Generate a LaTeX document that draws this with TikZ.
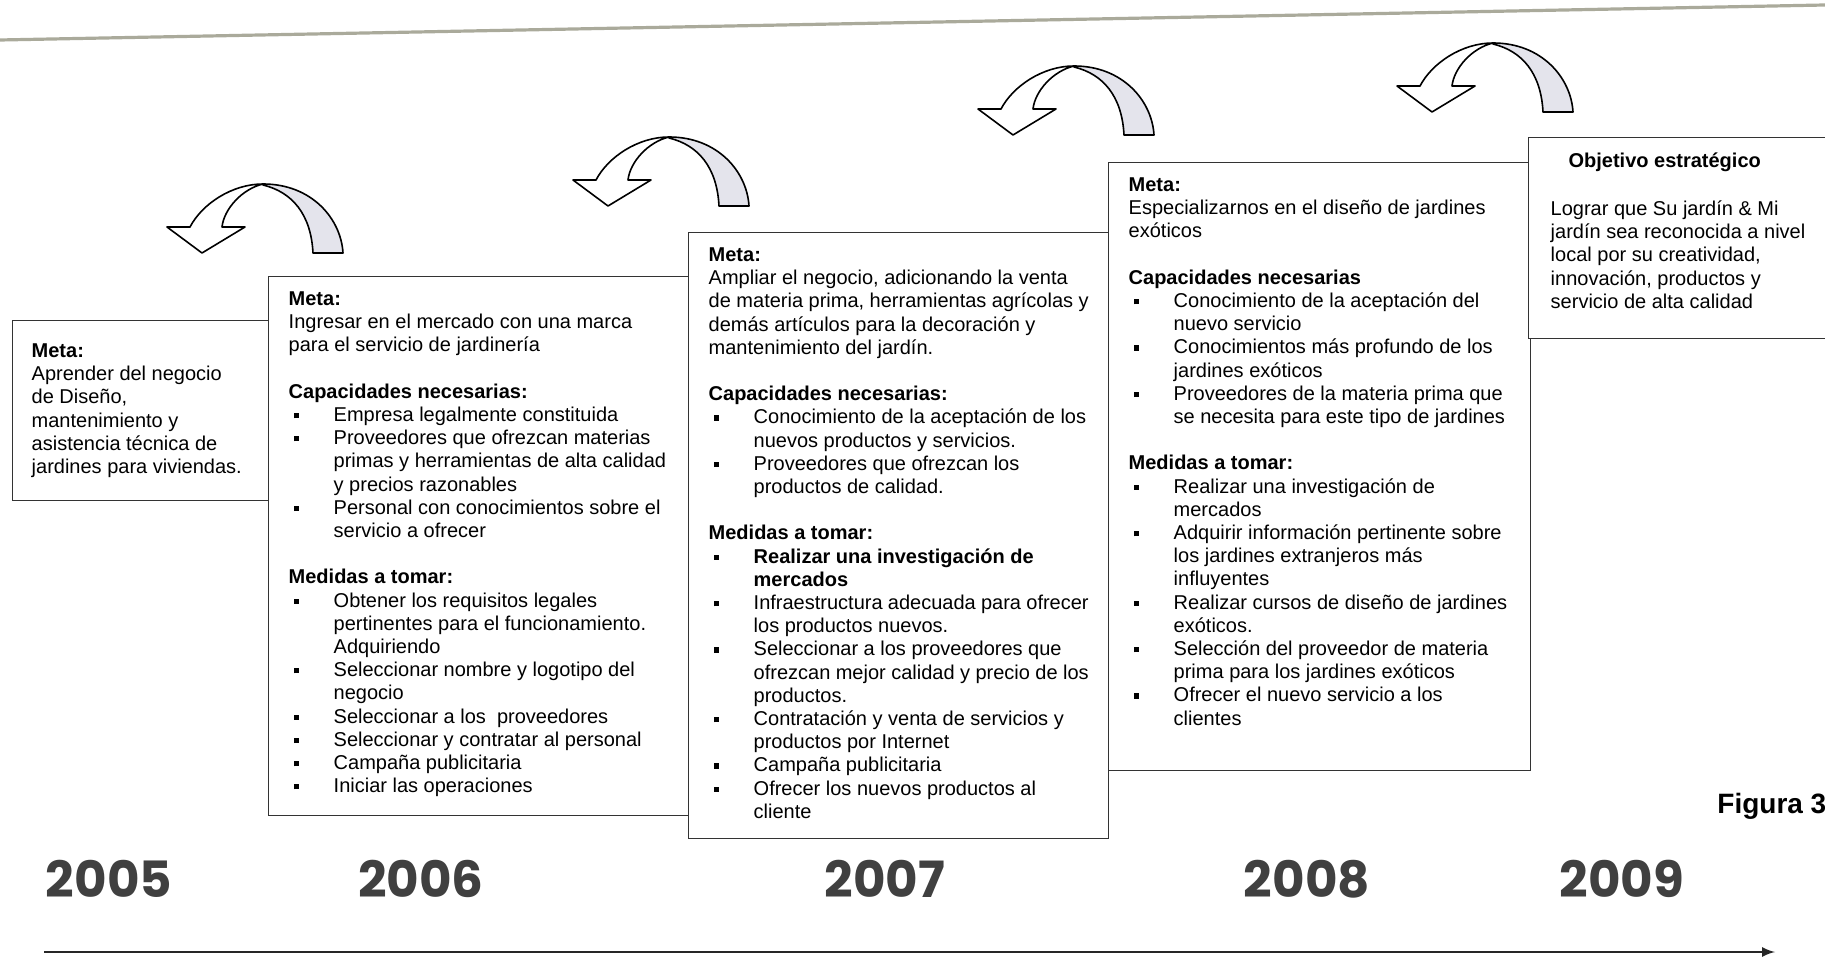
\documentclass[tikz,border=0pt]{standalone}
\usepackage{fontspec}
\setmainfont{Liberation Sans}
\newfontfamily\anyofont{Poppins}
\definecolor{lomo}{RGB}{228,228,236}
\definecolor{cabecera}{RGB}{170,170,155}
\newenvironment{vinetas}{\begin{list}{\rule[0.3ex]{2.6pt}{2.6pt}}{%
	\setlength{\leftmargin}{22.5pt}\setlength{\labelwidth}{22.5pt}%
	\setlength{\labelsep}{0pt}\setlength{\itemsep}{0pt}%
	\setlength{\parsep}{0pt}\setlength{\topsep}{0pt}%
	\setlength{\partopsep}{0pt}%
	\renewcommand{\makelabel}[1]{\hspace*{2.5pt}##1\hfill}}}{\end{list}}

\begin{document}
\begin{tikzpicture}[x=0.5pt,y=-0.5pt]
	\tikzstyle{caja} = [draw=black!80, fill=white, line width=0.7pt, rectangle, anchor=north west, inner xsep=10pt, inner ysep=7.5pt, font=\fontsize{10}{11.6}\selectfont]
	\tikzstyle{anyo} = [font=\anyofont\bfseries\fontsize{25}{30}\selectfont, text=black!75]
	\tikzset{vuelta/.pic={
		\draw[line width=0.8pt, line join=round, fill=lomo] (96,0) .. controls (145,0) and (174,35) .. (176,69) -- (146,69) .. controls (144,30) and (125,8) .. (96,1) -- cycle;
		\draw[line width=0.8pt, line join=round, fill=white] (0,43) -- (23,43) .. controls (35,20) and (65,0) .. (96,0) .. controls (75,5) and (57,25) .. (55,43) -- (78,43) -- (35,69) -- cycle;
	}}

	\useasboundingbox (0,0) rectangle (1825,961);

	\coordinate (hl) at (0,40);
	\coordinate (hr) at (1825,5);
	\draw[cabecera, line width=1.6pt] (hl) -- (hr);

	\pic at (167,184) {vuelta};
	\pic at (573,137) {vuelta};
	\pic at (978,66) {vuelta};
	\pic at (1397,43) {vuelta};

	\node[caja, inner xsep=9.5pt] (m05) at (12,320) {\begin{minipage}[c][75pt][c]{118pt}
		\raggedright
		\textbf{Meta:}\\
		Aprender del negocio\\
		de Diseño,\\
		mantenimiento y\\
		asistencia técnica de\\
		jardines para viviendas.
	\end{minipage}};

	\node[caja] (m06) at (268,276) {\begin{minipage}[c][254.5pt][t]{190pt}
		\raggedright
		\textbf{Meta:}\\
		Ingresar en el mercado con una marca\\
		para el servicio de jardinería\par
		\vspace{\baselineskip}
		\textbf{Capacidades necesarias:}
		\begin{vinetas}
			\item Empresa legalmente constituida
			\item Proveedores que ofrezcan materias\\ primas y herramientas de alta calidad\\ y precios razonables
			\item Personal con conocimientos sobre el\\ servicio a ofrecer
		\end{vinetas}
		\vspace{\baselineskip}
		\textbf{Medidas a tomar:}
		\begin{vinetas}
			\item Obtener los requisitos legales\\ pertinentes para el funcionamiento.\\ Adquiriendo
			\item Seleccionar nombre y logotipo del\\ negocio
			\item Seleccionar a los\ \ proveedores
			\item Seleccionar y contratar al personal
			\item Campaña publicitaria
			\item Iniciar las operaciones
		\end{vinetas}
	\end{minipage}};

	\node[caja] (m07) at (688,232) {\begin{minipage}[c][288pt][t]{190pt}
		\raggedright
		\textbf{Meta:}\\
		Ampliar el negocio, adicionando la venta\\
		de materia prima, herramientas agrícolas y\\
		demás artículos para la decoración y\\
		mantenimiento del jardín.\par
		\vspace{\baselineskip}
		\textbf{Capacidades necesarias:}
		\begin{vinetas}
			\item Conocimiento de la aceptación de los\\ nuevos productos y servicios.
			\item Proveedores que ofrezcan los\\ productos de calidad.
		\end{vinetas}
		\vspace{\baselineskip}
		\textbf{Medidas a tomar:}
		\begin{vinetas}
			\item \textbf{Realizar una investigación de\\ mercados}
			\item Infraestructura adecuada para ofrecer\\ los productos nuevos.
			\item Seleccionar a los proveedores que\\ ofrezcan mejor calidad y precio de los\\ productos.
			\item Contratación y venta de servicios y\\ productos por Internet
			\item Campaña publicitaria
			\item Ofrecer los nuevos productos al\\ cliente
		\end{vinetas}
	\end{minipage}};

	\node[caja] (m08) at (1108,162) {\begin{minipage}[c][289pt][t]{191pt}
		\raggedright
		\textbf{Meta:}\\
		Especializarnos en el diseño de jardines\\
		exóticos\par
		\vspace{\baselineskip}
		\textbf{Capacidades necesarias}
		\begin{vinetas}
			\item Conocimiento de la aceptación del\\ nuevo servicio
			\item Conocimientos más profundo de los\\ jardines exóticos
			\item Proveedores de la materia prima que\\ se necesita para este tipo de jardines
		\end{vinetas}
		\vspace{\baselineskip}
		\textbf{Medidas a tomar:}
		\begin{vinetas}
			\item Realizar una investigación de\\ mercados
			\item Adquirir información pertinente sobre\\ los jardines extranjeros más\\ influyentes
			\item Realizar cursos de diseño de jardines\\ exóticos.
			\item Selección del proveedor de materia\\ prima para los jardines exóticos
			\item Ofrecer el nuevo servicio a los\\ clientes
		\end{vinetas}
	\end{minipage}};

	\node[caja, inner xsep=11pt] (obj) at (1528,137) {\begin{minipage}[c][85.5pt][t]{134pt}
		\raggedright
		\makebox[114pt][c]{\textbf{Objetivo estratégico}}\\[12.5pt]
		Lograr que Su jardín \& Mi\\
		jardín sea reconocida a nivel\\
		local por su creatividad,\\
		innovación, productos y\\
		servicio de alta calidad
	\end{minipage}};

	\node[font=\bfseries\fontsize{14}{16}\selectfont, anchor=west, inner sep=0pt] (fig) at (1717,806) {Figura 3};

	\node[anyo] (a05) at (109,879) {2005};
	\node[anyo] (a06) at (421,879) {2006};
	\node[anyo] (a07) at (885,879) {2007};
	\node[anyo] (a08) at (1307,879) {2008};
	\node[anyo] (a09) at (1622,879) {2009};

	\coordinate (ini) at (44,952);
	\coordinate (fin) at (1775,952);
	\draw[-latex, line width=1.2pt, black!85] (ini) -- (fin);
\end{tikzpicture}
\end{document}
